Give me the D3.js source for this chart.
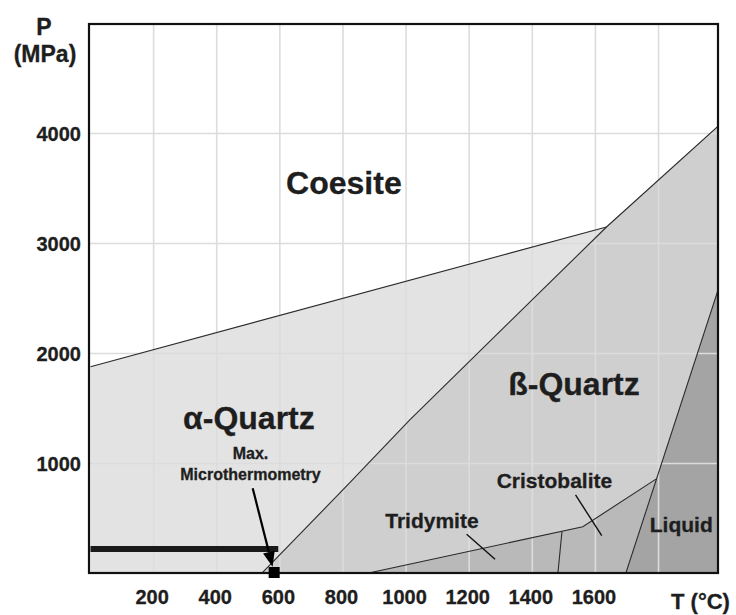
<!DOCTYPE html>
<html>
<head>
<meta charset="utf-8">
<script src="https://cdn.jsdelivr.net/npm/d3@7"></script>
<style>
  html, body { margin: 0; padding: 0; background: #fff; }
  svg { display: block; font-family: "Liberation Sans", Arial, Helvetica, sans-serif; }
  text { stroke: #1e1e1e; stroke-width: 0.3px; }
</style>
</head>
<body>
<svg id="chart" width="736" height="615"></svg>
<script>
// ---- Data (T in °C, P in MPa) ----
const xTicks = [200, 400, 600, 800, 1000, 1200, 1400, 1600];
const xGrid = [200, 400, 600, 800, 1000, 1200, 1400, 1600, 1800];
const yTicks = [1000, 2000, 3000, 4000];

// Phase boundaries
const coesiteLine = [[0, 1880], [1635, 3150]];
const betaLine = [[542, 0], [821, 823], [1011, 1395], [1635, 3150], [1990, 4070]];
const tridymiteLine = [[874, 0], [1560, 425], [1793, 860]];
const triCrisLine = [[1494, 382], [1481, 0]];
const liquidLine = [[1696, 0], [1990, 2590]];

// Region polygons
const alphaRegion = [[0, 0], [0, 1880], [1635, 3150], [1635, 0]];
const betaRegion = betaLine.concat([[1990, 0]]);
const lowRegion = tridymiteLine.concat([[1696, 0]]);
const liquidRegion = liquidLine.concat([[1990, 0]]);

// Annotations
const barLine = [[0, 222], [595, 222]];
const arrowLine = [[514, 775], [577, 62]];
const squarePoint = [582, 0];
const tridLeader = [[1192, 356], [1282, 129]];
const crisLeader = [[1537, 714], [1620, 344]];

const phaseLabels = [
  { text: "Coesite", T: 803, P: 3450, size: 32 },
  { text: "α-Quartz", T: 502, P: 1314, size: 32 },
  { text: "ß-Quartz", T: 1532, P: 1623, size: 32 },
  { text: "Tridymite", T: 1082, P: 411, size: 21 },
  { text: "Cristobalite", T: 1470, P: 775, size: 21 },
  { text: "Liquid", T: 1872, P: 380, size: 21 },
  { text: "Max.", T: 507, P: 1040, size: 16 },
  { text: "Microthermometry", T: 507, P: 853, size: 16 }
];

// ---- Layout ----
const pL = 89, pR = 718, pT = 24, pB = 573;
const x = d3.scaleLinear().domain([0, 1990]).range([90.5, 718.5]);
const y = d3.scaleLinear().domain([0, 5000]).range([573.5, 23.5]);

const svg = d3.select("#chart");
const line = d3.line().x(d => x(d[0])).y(d => y(d[1]));

svg.append("defs").append("clipPath").attr("id", "plotclip")
  .append("rect").attr("x", pL).attr("y", pT).attr("width", pR - pL).attr("height", pB - pT);

const g = svg.append("g").attr("clip-path", "url(#plotclip)");

// Regions
g.append("path").attr("d", line(alphaRegion) + "Z").attr("fill", "#e3e3e3");
g.append("path").attr("d", line(betaRegion) + "Z").attr("fill", "#cfcfcf");
g.append("path").attr("d", line(lowRegion) + "Z").attr("fill", "#b9b9b9");
g.append("path").attr("d", line(liquidRegion) + "Z").attr("fill", "#a4a4a4");

// Grid
g.selectAll(".vg").data(xGrid).enter().append("line")
  .attr("x1", d => x(d)).attr("x2", d => x(d)).attr("y1", pT).attr("y2", pB)
  .attr("stroke", "#dcdcdc").attr("stroke-width", 1.6);
g.selectAll(".hg").data(yTicks).enter().append("line")
  .attr("x1", pL).attr("x2", pR).attr("y1", d => y(d)).attr("y2", d => y(d))
  .attr("stroke", "#dcdcdc").attr("stroke-width", 1.6);

// Boundary lines
[coesiteLine, betaLine, tridymiteLine, triCrisLine, liquidLine].forEach(l => {
  g.append("path").attr("d", line(l)).attr("fill", "none")
    .attr("stroke", "#2b2b2b").attr("stroke-width", 1.1);
});

// Leader lines
[tridLeader, crisLeader].forEach(l => {
  g.append("path").attr("d", line(l)).attr("fill", "none")
    .attr("stroke", "#111").attr("stroke-width", 1.4);
});

// Frame
svg.append("rect").attr("x", pL).attr("y", pT).attr("width", pR - pL).attr("height", pB - pT)
  .attr("fill", "none").attr("stroke", "#111").attr("stroke-width", 2.2);

// Thick bar
svg.append("path").attr("d", line(barLine)).attr("stroke", "#1a1a1a").attr("stroke-width", 6).attr("fill", "none");

// Arrow
const ax1 = x(arrowLine[0][0]), ay1 = y(arrowLine[0][1]);
const ax2 = x(arrowLine[1][0]), ay2 = y(arrowLine[1][1]);
const ang = Math.atan2(ay2 - ay1, ax2 - ax1);
const headLen = 15, headW = 6;
const bx = ax2 - headLen * Math.cos(ang), by = ay2 - headLen * Math.sin(ang);
svg.append("line").attr("x1", ax1).attr("y1", ay1).attr("x2", bx).attr("y2", by)
  .attr("stroke", "#000").attr("stroke-width", 2.2);
svg.append("path")
  .attr("d", `M${ax2},${ay2}L${bx + headW * Math.sin(ang)},${by - headW * Math.cos(ang)}L${bx - headW * Math.sin(ang)},${by + headW * Math.cos(ang)}Z`)
  .attr("fill", "#000");

// Square
svg.append("rect").attr("x", x(squarePoint[0]) - 5.5).attr("y", y(squarePoint[1]) - 6.5)
  .attr("width", 11).attr("height", 11).attr("fill", "#000");

// Labels
svg.selectAll(".pl").data(phaseLabels).enter().append("text")
  .attr("x", d => x(d.T)).attr("y", d => y(d.P))
  .attr("text-anchor", "middle").attr("font-weight", "bold")
  .attr("font-size", d => d.size).attr("fill", "#1e1e1e")
  .text(d => d.text);

// Axis tick labels
svg.selectAll(".xt").data(xTicks).enter().append("text")
  .attr("x", d => x(d) - 1.5).attr("y", 604)
  .attr("text-anchor", "middle").attr("font-weight", "bold").attr("font-size", 20).attr("fill", "#1e1e1e")
  .text(d => d);
svg.selectAll(".yt").data(yTicks).enter().append("text")
  .attr("x", 81).attr("y", d => y(d) + 7)
  .attr("text-anchor", "end").attr("font-weight", "bold").attr("font-size", 20).attr("fill", "#1e1e1e")
  .text(d => d);

// Axis titles
svg.append("text").attr("x", 44).attr("y", 35).attr("text-anchor", "middle")
  .attr("font-weight", "bold").attr("font-size", 23).attr("fill", "#1e1e1e").text("P");
svg.append("text").attr("x", 45).attr("y", 62).attr("text-anchor", "middle")
  .attr("font-weight", "bold").attr("font-size", 23).attr("fill", "#1e1e1e").text("(MPa)");
svg.append("text").attr("x", 671).attr("y", 609).attr("text-anchor", "start")
  .attr("font-weight", "bold").attr("font-size", 22).attr("fill", "#1e1e1e").text("T (°C)");
</script>
</body>
</html>
